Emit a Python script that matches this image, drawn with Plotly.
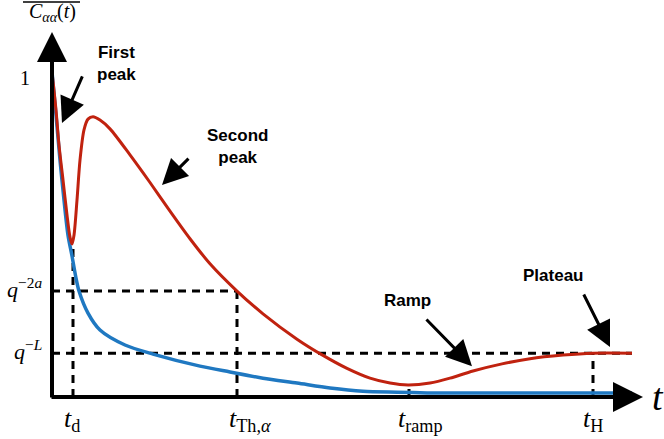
import plotly.graph_objects as go

# ---- data (time in arbitrary units, correlation normalised so C(0)=1) ----
blue_t = [0, 4, 8, 12, 16, 20, 24, 27, 36, 48, 73, 101, 148, 178, 211, 245, 278, 311, 345, 398, 580]
blue_c = [1.0, 0.868, 0.729, 0.606, 0.498, 0.434, 0.366, 0.326, 0.258, 0.206, 0.16, 0.132, 0.095,
          0.077, 0.058, 0.043, 0.028, 0.018, 0.015, 0.012, 0.012]

red_t = [0, 4, 7, 11, 15, 18, 20, 22, 25, 28, 32, 36, 41, 48, 58, 78, 98, 118, 138, 158,
         185, 211, 245, 271, 295, 318, 338, 356, 378, 398, 421, 450, 478, 511, 541, 580]
red_c = [1.0, 0.883, 0.775, 0.668, 0.56, 0.492, 0.471, 0.498, 0.606, 0.729, 0.822, 0.855,
         0.862, 0.852, 0.825, 0.745, 0.66, 0.572, 0.487, 0.41, 0.326, 0.256, 0.178, 0.128,
         0.088, 0.058, 0.043, 0.037, 0.043, 0.058, 0.080, 0.102, 0.118, 0.129, 0.135, 0.135]

# characteristic times and levels
t_d, t_th, t_ramp, t_H, t_end = 21, 185, 357, 541, 580
q2a, qL = 0.326, 0.135
red_min_d = 0.471
red_min_ramp = 0.037

x_ticks = [20, 198, 368, 541]
x_tick_labels = ["<i>t</i><sub>d</sub>", "<i>t</i><sub>Th,<i>α</i></sub>",
                 "<i>t</i><sub>ramp</sub>", "<i>t</i><sub>H</sub>"]

callouts = [
    # label, text-x, text-y, tail-x, tail-y, tip-x, tip-y
    ("First<br>peak", 64, 1.026, 31, 0.991, 10, 0.843),
    ("Second<br>peak", 185, 0.772, 138, 0.738, 110, 0.652),
    ("Ramp", 355, 0.298, 373, 0.243, 420, 0.095),
    ("Plateau", 501, 0.375, 531, 0.32, 558, 0.154),
]

RED = "#c0220f"
BLUE = "#1f78c1"
SERIF = "Liberation Serif"
SANS = "Liberation Sans"

fig = go.Figure()
fig.add_trace(go.Scatter(x=blue_t, y=blue_c, mode="lines",
                         line=dict(color=BLUE, width=3.5, shape="spline", smoothing=0.8),
                         hoverinfo="skip", showlegend=False))
fig.add_trace(go.Scatter(x=red_t, y=red_c, mode="lines",
                         line=dict(color=RED, width=3, shape="spline", smoothing=0.8),
                         hoverinfo="skip", showlegend=False))

dash = dict(color="black", width=3, dash="8px,6px")
shapes = [
    dict(type="line", x0=0, x1=t_th, y0=q2a, y1=q2a, line=dash, layer="below"),
    dict(type="line", x0=t_th, x1=t_th, y0=0, y1=q2a, line=dash, layer="below"),
    dict(type="line", x0=0, x1=t_end, y0=qL, y1=qL, line=dash, layer="below"),
    dict(type="line", x0=t_d, x1=t_d, y0=0, y1=red_min_d, line=dash, layer="below"),
    dict(type="line", x0=t_ramp, x1=t_ramp, y0=0, y1=red_min_ramp, line=dash, layer="below"),
    dict(type="line", x0=t_H, x1=t_H, y0=0, y1=qL, line=dash, layer="below"),
    # overline of C
    dict(type="line", x0=-29, x1=28, y0=1.215, y1=1.215, line=dict(color="black", width=1.5)),
]

ann = []
# axes with arrowheads
ann.append(dict(x=591, y=0, ax=-2, ay=0, axref="x", ayref="y", xref="x", yref="y", text="",
                showarrow=True, arrowhead=2, arrowwidth=4, arrowsize=1.5, arrowcolor="black",
                standoff=0, startstandoff=0))
ann.append(dict(x=0, y=1.123, ax=0, ay=-0.006, axref="x", ayref="y", xref="x", yref="y", text="",
                showarrow=True, arrowhead=2, arrowwidth=4, arrowsize=1.5, arrowcolor="black",
                standoff=0, startstandoff=0))
# axis labels
ann.append(dict(x=606, y=0.0, text="<i>t</i>", showarrow=False,
                font=dict(family=SERIF, size=38, color="black"), xanchor="center", yanchor="middle"))
ann.append(dict(x=0, y=1.182, text="<i>C</i><sub><i>αα</i></sub>(<i>t</i>)", showarrow=False,
                font=dict(family=SERIF, size=20, color="black"), xanchor="center", yanchor="middle"))
ann.append(dict(x=-27, y=0.98, text="1", showarrow=False,
                font=dict(family=SERIF, size=20, color="black"), xanchor="center", yanchor="middle"))
ann.append(dict(x=-8, y=q2a + 0.01, text="<i>q</i><sup>−2<i>a</i></sup>", showarrow=False,
                font=dict(family=SERIF, size=22, color="black"), xanchor="right", yanchor="middle"))
ann.append(dict(x=-8, y=qL + 0.01, text="<i>q</i><sup>−<i>L</i></sup>", showarrow=False,
                font=dict(family=SERIF, size=22, color="black"), xanchor="right", yanchor="middle"))
for xv, lab in zip(x_ticks, x_tick_labels):
    ann.append(dict(x=xv, y=-0.07, text=lab, showarrow=False,
                    font=dict(family=SERIF, size=26, color="black"), xanchor="center", yanchor="middle"))
for lab, tx, ty, ax_, ay_, px, py in callouts:
    ann.append(dict(x=tx, y=ty, text="<b>" + lab + "</b>", showarrow=False,
                    font=dict(family=SANS, size=17, color="black"), xanchor="center", yanchor="middle"))
    ann.append(dict(x=px, y=py, ax=ax_, ay=ay_, axref="x", ayref="y", xref="x", yref="y", text="",
                    showarrow=True, arrowhead=2, arrowwidth=3, arrowsize=1.7, arrowcolor="black",
                    standoff=0, startstandoff=0))

fig.update_layout(
    width=664, height=439,
    margin=dict(l=0, r=0, t=0, b=0),
    paper_bgcolor="white", plot_bgcolor="white",
    xaxis=dict(range=[-52, 612], visible=False, fixedrange=True),
    yaxis=dict(range=[-0.1292, 1.2215], visible=False, fixedrange=True),
    shapes=shapes, annotations=ann, showlegend=False,
)
fig.write_html("out.html", config={"displayModeBar": False},
               post_script="document.body.style.margin='0';document.body.style.overflow='hidden';")
